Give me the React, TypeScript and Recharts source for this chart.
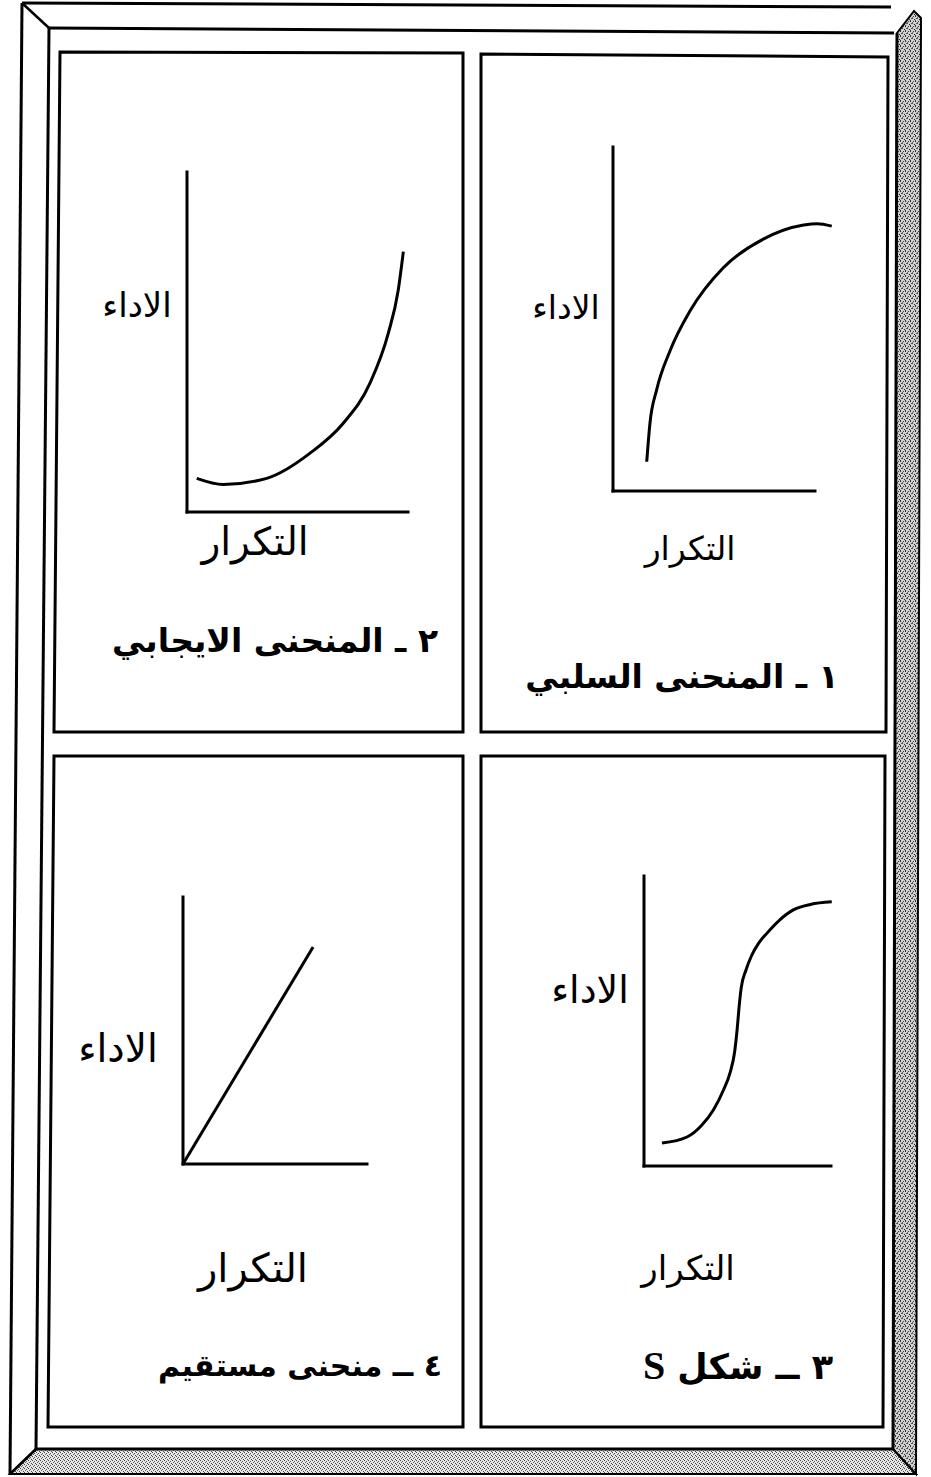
import React from 'react';
import { LineChart, Line, XAxis, YAxis, ReferenceLine } from 'recharts';

// axis units: each axis runs 0..10 (التكرار across, الاداء up)
const AXIS_END = 10;

// ١ - negative curve (rises fast, levels off)
const negX = [1.67, 1.83, 2.16, 2.82, 3.81, 5.46, 7.44, 9.44, 10.11, 10.83];
const negY = [0.85, 1.97, 2.94, 4.07, 5.23, 6.49, 7.32, 7.73, 7.77, 7.7];

// ٢ - positive curve (slow start, steep end)
const posX = [0.44, 1.64, 3.61, 5.57, 7.07, 8.28, 9.11, 9.56, 9.79];
const posY = [0.99, 0.81, 0.99, 1.73, 2.61, 3.79, 5.26, 6.53, 7.66];

// ٣ - S shape
const sX = [0.96, 2.3, 3.05, 3.71, 4.25, 4.6, 4.85, 4.98, 5.08, 5.2, 5.45, 5.75, 6.15, 6.58, 7.25, 7.98, 8.9, 10.04];
const sY = [0.79, 1.0, 1.38, 1.93, 2.62, 3.21, 3.95, 4.7, 5.45, 6.15, 6.75, 7.25, 7.7, 8.03, 8.48, 8.83, 9.02, 9.11];

// ٤ - straight line
const linX = [0, 7.07];
const linY = [0, 8.13];

const Y_LABEL = 'الاداء';
const X_LABEL = 'التكرار';
const TITLES = ['١ ـ المنحنى السلبي', '٢ ـ المنحنى الايجابي', '٣ ــ شكل ', '٤ ــ منحنى مستقيم'];

const PAD = 8;
const AR_FONT = "'DejaVu Sans', sans-serif";

interface CurveProps {
  xs: number[];
  ys: number[];
  ox: number; // origin in page px
  oy: number;
  ax: number; // axis length px
  ay: number;
  xMax: number;
  yMax: number;
  kind?: 'monotone' | 'linear';
}

const Curve: React.FC<CurveProps> = ({ xs, ys, ox, oy, ax, ay, xMax, yMax, kind = 'monotone' }) => {
  const data = xs.map((x, i) => ({ x, y: ys[i] }));
  const pw = (xMax * ax) / AXIS_END;
  const ph = (yMax * ay) / AXIS_END;
  return (
    <div style={{ position: 'absolute', left: ox - PAD, top: oy - ph - PAD }}>
      <LineChart width={pw + 2 * PAD} height={ph + 2 * PAD} data={data} margin={{ top: PAD, right: PAD, bottom: PAD, left: PAD }}>
        <XAxis type="number" dataKey="x" domain={[0, xMax]} hide />
        <YAxis type="number" domain={[0, yMax]} hide />
        <ReferenceLine segment={[{ x: 0, y: 0 }, { x: AXIS_END, y: 0 }]} stroke="#000" strokeWidth={3} strokeLinecap="square" ifOverflow="visible" />
        <ReferenceLine segment={[{ x: 0, y: 0 }, { x: 0, y: AXIS_END }]} stroke="#000" strokeWidth={3} strokeLinecap="square" ifOverflow="visible" />
        <Line type={kind} dataKey="y" stroke="#000" strokeWidth={3} dot={false} isAnimationActive={false} />
      </LineChart>
    </div>
  );
};

const Txt: React.FC<{ cx: number; cy: number; size: number; bold?: boolean; children: React.ReactNode }> = ({ cx, cy, size, bold, children }) => (
  <div
    dir="rtl"
    style={{
      position: 'absolute',
      left: cx,
      top: cy,
      transform: 'translate(-50%, -50%)',
      whiteSpace: 'nowrap',
      fontFamily: AR_FONT,
      fontSize: size,
      fontWeight: bold ? 'bold' : 'normal',
      lineHeight: 1,
      color: '#000',
    }}
  >
    {children}
  </div>
);

const Frame: React.FC = () => (
  <svg width={931} height={1477} style={{ position: 'absolute', left: 0, top: 0 }}>
    <defs>
      <pattern id="grainLight" width="4" height="4" patternUnits="userSpaceOnUse">
        <rect width="4" height="4" fill="#e6e6e6" />
        <rect x="0" y="0" width="1" height="1" fill="#444" />
        <rect x="2" y="1" width="1" height="1" fill="#555" />
        <rect x="1" y="2" width="1" height="1" fill="#666" />
        <rect x="3" y="3" width="1" height="1" fill="#444" />
      </pattern>
      <pattern id="grainDark" width="5" height="5" patternUnits="userSpaceOnUse">
        <rect width="5" height="5" fill="#cfcfcf" />
        <rect x="0" y="0" width="1" height="2" fill="#333" />
        <rect x="3" y="1" width="1" height="1" fill="#444" />
        <rect x="1" y="3" width="2" height="1" fill="#555" />
        <rect x="4" y="4" width="1" height="1" fill="#222" />
        <rect x="2" y="2" width="1" height="1" fill="#666" />
      </pattern>
    </defs>
    {/* bevel strips */}
    <polygon points="36,1449 893,1449 916,1474 10,1474" fill="url(#grainLight)" stroke="#000" strokeWidth={2} />
    <polygon points="897,33 914,11 921,18 916,1474 893,1449" fill="url(#grainDark)" stroke="#000" strokeWidth={2} />
    <line x1={897} y1={33} x2={893} y2={1449} stroke="#000" strokeWidth={3} />
    <line x1={36} y1={1449} x2={893} y2={1449} stroke="#000" strokeWidth={3} />
    {/* outer + inner frame */}
    <line x1={22} y1={3} x2={891} y2={7} stroke="#000" strokeWidth={3} />
    <line x1={22} y1={3} x2={10} y2={1474} stroke="#000" strokeWidth={3} />
    <line x1={49} y1={28} x2={894} y2={33} stroke="#000" strokeWidth={3} />
    <line x1={49} y1={28} x2={36} y2={1449} stroke="#000" strokeWidth={3} />
    <line x1={22} y1={3} x2={49} y2={28} stroke="#000" strokeWidth={2.5} />
    <line x1={10} y1={1474} x2={36} y2={1449} stroke="#000" strokeWidth={2.5} />
    {/* panels */}
    <polygon points="60,52 463,53 463,732 54,732" fill="none" stroke="#000" strokeWidth={3} />
    <polygon points="481,54 888,57 886,732 481,732" fill="none" stroke="#000" strokeWidth={3} />
    <polygon points="54,756 463,756 463,1427 48,1427" fill="none" stroke="#000" strokeWidth={3} />
    <polygon points="481,756 885,756 883,1427 481,1427" fill="none" stroke="#000" strokeWidth={3} />
  </svg>
);

export default function App() {
  return (
    <div style={{ position: 'absolute', left: 0, top: 0, width: 931, height: 1477, background: '#fff', overflow: 'hidden' }}>
      <Frame />

      {/* top right: ١ */}
      <Curve xs={negX} ys={negY} ox={613} oy={491} ax={202} ay={344} xMax={11} yMax={10} />
      <Txt cx={566} cy={307} size={33}>{Y_LABEL}</Txt>
      <Txt cx={690} cy={548} size={33}>{X_LABEL}</Txt>
      <Txt cx={682} cy={676} size={33} bold>{TITLES[0]}</Txt>

      {/* top left: ٢ */}
      <Curve xs={posX} ys={posY} ox={187} oy={512} ax={221} ay={340} xMax={10.2} yMax={10} />
      <Txt cx={137} cy={305} size={34}>{Y_LABEL}</Txt>
      <Txt cx={255} cy={541} size={39}>{X_LABEL}</Txt>
      <Txt cx={275} cy={640} size={33} bold>{TITLES[1]}</Txt>

      {/* bottom right: ٣ */}
      <Curve xs={sX} ys={sY} ox={644} oy={1166} ax={187} ay={290} xMax={10.3} yMax={10} />
      <Txt cx={590} cy={990} size={38}>{Y_LABEL}</Txt>
      <Txt cx={688} cy={1268} size={34}>{X_LABEL}</Txt>
      <Txt cx={738} cy={1366} size={35} bold>
        {TITLES[2]}
        <span style={{ fontFamily: "'Liberation Serif', serif", fontSize: 40 }}>S</span>
      </Txt>

      {/* bottom left: ٤ */}
      <Curve xs={linX} ys={linY} ox={183} oy={1164} ax={184} ay={267} xMax={10} yMax={10} kind="linear" />
      <Txt cx={118} cy={1048} size={39}>{Y_LABEL}</Txt>
      <Txt cx={253} cy={1268} size={40}>{X_LABEL}</Txt>
      <Txt cx={300} cy={1366} size={30} bold>{TITLES[3]}</Txt>
    </div>
  );
}
